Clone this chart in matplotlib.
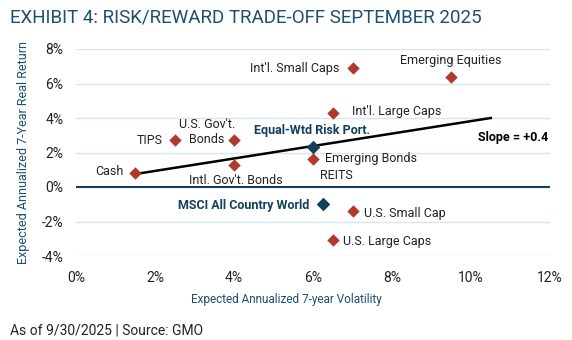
import numpy as np
import matplotlib.pyplot as plt

plt.rcParams['font.family'] = ['Roboto', 'DejaVu Sans']

# asset classes: volatility (%), real return (%)
assets = ["Cash", "TIPS", "U.S. Gov't.\nBonds", "Intl. Gov't. Bonds", "Emerging Bonds",
          "Int'l. Small Caps", "Emerging Equities", "Int'l. Large Caps",
          "U.S. Small Cap", "U.S. Large Caps"]
vol = [1.5, 2.5, 4.0, 4.0, 6.0, 7.0, 9.5, 6.5, 7.0, 6.5]
ret = [0.8, 2.7, 2.7, 1.3, 1.6, 6.9, 6.4, 4.3, -1.4, -3.1]

# portfolios
ports = ["Equal-Wtd Risk Port.", "MSCI All Country World"]
port_vol = [6.0, 6.25]
port_ret = [2.3, -1.0]

# fitted line
line_x = [1.5, 10.5]
line_y = [0.75, 4.0]
slope_txt = "Slope = +0.4"

red = '#b0382d'
navy = '#153f5e'
title_col = '#1d4f73'
txt = '#222222'

fig = plt.figure(figsize=(5.72, 3.4), dpi=100)
ax = fig.add_axes([76/572, 1-256/340, 474/572, 207/340])
ax.set_xlim(0, 12)
ax.set_ylim(-4, 8)

yt = [-4, -2, 2, 4, 6, 8]
for v in yt:
    ax.axhline(v, color='#d6e6ef', lw=1, zorder=0)
ax.axhline(0, color=navy, lw=1.5, zorder=1)

ax.plot(line_x, line_y, color='black', lw=1.8, zorder=2)
ax.scatter(vol, ret, marker='D', s=40, color=red, zorder=3, linewidths=0)
ax.scatter(port_vol, port_ret, marker='D', s=48, color=navy, zorder=4, linewidths=0)

# label offsets in pixels, alignment
offs = [(-12, 2, 'right'), (-12, 0, 'right'), (-27, 8, 'center'), (2, -16, 'center'),
        (12, 1, 'left'), (-13, -1, 'right'), (0, 16, 'center'), (19, 1, 'left'),
        (11, -2, 'left'), (10, -1, 'left')]
for name, x, y, (dx, dy, ha) in zip(assets, vol, ret, offs):
    ax.annotate(name, (x, y), xytext=(dx, dy), textcoords='offset pixels',
                ha=ha, va='center', fontsize=9, color=txt, multialignment='center')
ax.annotate("REITS", (vol[4], ret[4]), xytext=(7, -16), textcoords='offset pixels',
            ha='left', va='center', fontsize=9, color=txt)

poffs = [(-1, 17, 'center'), (-13, -1, 'right')]
for name, x, y, (dx, dy, ha) in zip(ports, port_vol, port_ret, poffs):
    ax.annotate(name, (x, y), xytext=(dx, dy), textcoords='offset pixels',
                ha=ha, va='center', fontsize=9, color=navy, fontweight='bold')

ax.text(11.95, 2.88, slope_txt, ha='right', va='center', fontsize=9,
        fontweight='bold', color='black')

ax.set_xticks(range(0, 13, 2))
ax.set_xticklabels([f"{v}%" for v in range(0, 13, 2)])
ax.set_yticks(range(-4, 9, 2))
ax.set_yticklabels([f"{v}%" for v in range(-4, 9, 2)])
ax.tick_params(length=0, labelsize=10, labelcolor=txt)
ax.tick_params(axis='y', pad=9)
ax.tick_params(axis='x', pad=11)
for s in ax.spines.values():
    s.set_visible(False)

fig.text(24/572, 1-152/340, "Expected Annualized 7-Year Real Return", rotation=90,
         ha='center', va='center', fontsize=9, color=title_col)
fig.text(286/572, 1-300/340, "Expected Annualized 7-year Volatility",
         ha='center', va='center', fontsize=8.5, color=title_col)
fig.text(10/572, 1-18/340, "EXHIBIT 4: RISK/REWARD TRADE-OFF SEPTEMBER 2025",
         ha='left', va='center', fontsize=13.5, color=title_col)
fig.text(10/572, 1-331/340, "As of 9/30/2025 | Source: GMO",
         ha='left', va='center', fontsize=10, color=txt)

fig.savefig("out.png", dpi=100)
